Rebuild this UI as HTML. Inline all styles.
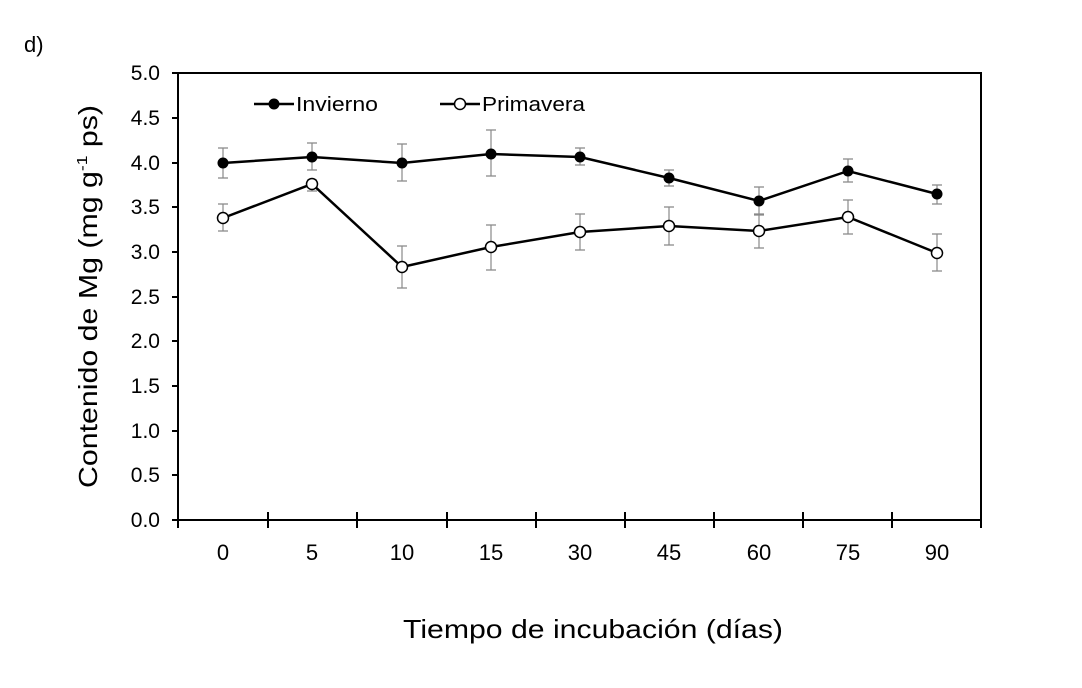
<!DOCTYPE html>
<html><head><meta charset="utf-8"><style>
body{margin:0;background:#fff;}
svg{display:block;font-family:"Liberation Sans",sans-serif;}
</style></head><body>
<svg width="1082" height="688" viewBox="0 0 1082 688" xmlns="http://www.w3.org/2000/svg">
<rect width="1082" height="688" fill="#fff"/>
<text x="24" y="52" font-size="22">d)</text>
<rect x="178" y="73" width="803" height="447" fill="none" stroke="#000" stroke-width="2"/>
<g stroke="#000" stroke-width="2">
<line x1="172" y1="73" x2="178" y2="73"/><line x1="172" y1="118" x2="178" y2="118"/>
<line x1="172" y1="163" x2="178" y2="163"/><line x1="172" y1="207" x2="178" y2="207"/>
<line x1="172" y1="252" x2="178" y2="252"/><line x1="172" y1="297" x2="178" y2="297"/>
<line x1="172" y1="341" x2="178" y2="341"/><line x1="172" y1="386" x2="178" y2="386"/>
<line x1="172" y1="431" x2="178" y2="431"/><line x1="172" y1="475" x2="178" y2="475"/>
<line x1="172" y1="520" x2="178" y2="520"/>
<line x1="268" y1="512" x2="268" y2="528"/><line x1="357" y1="512" x2="357" y2="528"/>
<line x1="447" y1="512" x2="447" y2="528"/><line x1="536" y1="512" x2="536" y2="528"/>
<line x1="625" y1="512" x2="625" y2="528"/><line x1="714" y1="512" x2="714" y2="528"/>
<line x1="803" y1="512" x2="803" y2="528"/><line x1="892" y1="512" x2="892" y2="528"/>
<line x1="178" y1="512" x2="178" y2="528"/><line x1="981" y1="512" x2="981" y2="528"/>
</g>
<g font-size="21" text-anchor="end" fill="#000">
<text x="160" y="80">5.0</text><text x="160" y="125">4.5</text><text x="160" y="170">4.0</text>
<text x="160" y="214">3.5</text><text x="160" y="259">3.0</text><text x="160" y="304">2.5</text>
<text x="160" y="348">2.0</text><text x="160" y="393">1.5</text><text x="160" y="438">1.0</text>
<text x="160" y="482">0.5</text><text x="160" y="527">0.0</text>
</g>
<g font-size="22" text-anchor="middle" fill="#000">
<text x="223" y="560">0</text><text x="312" y="560">5</text><text x="402" y="560">10</text>
<text x="491" y="560">15</text><text x="580" y="560">30</text><text x="669" y="560">45</text>
<text x="759" y="560">60</text><text x="848" y="560">75</text><text x="937" y="560">90</text>
</g>
<text x="403" y="638" font-size="26" textLength="380" lengthAdjust="spacingAndGlyphs">Tiempo de incubación (días)</text>
<text transform="translate(97,488) rotate(-90)" font-size="26" textLength="383" lengthAdjust="spacingAndGlyphs">Contenido de Mg  (mg g<tspan font-size="15" dy="-10">-1</tspan><tspan dy="10"> ps)</tspan></text>
<g stroke="#888" stroke-width="1.2">
<path d="M223 148V178M218 148H228M218 178H228M312 143V170M307 143H317M307 170H317M402 144V181M397 144H407M397 181H407M491 130V176M486 130H496M486 176H496M580 148V165M575 148H585M575 165H585M669 170V186M664 170H674M664 186H674M759 187V215M754 187H764M754 215H764M848 159V182M843 159H853M843 182H853M937 185V204M932 185H942M932 204H942"/>
<path d="M223 204V231M218 204H228M218 231H228M312 180V191M307 180H317M307 191H317M402 246V288M397 246H407M397 288H407M491 225V270M486 225H496M486 270H496M580 214V250M575 214H585M575 250H585M669 207V245M664 207H674M664 245H674M759 214V248M754 214H764M754 248H764M848 200V234M843 200H853M843 234H853M937 234V271M932 234H942M932 271H942"/>
</g>
<polyline fill="none" stroke="#000" stroke-width="2.5" points="223,163 312,157 402,163 491,154 580,157 669,178 759,201 848,171 937,194"/>
<polyline fill="none" stroke="#000" stroke-width="2.5" points="223,218 312,184 402,267 491,247 580,232 669,226 759,231 848,217 937,253"/>
<g fill="#000">
<circle cx="223" cy="163" r="5.5"/><circle cx="312" cy="157" r="5.5"/><circle cx="402" cy="163" r="5.5"/>
<circle cx="491" cy="154" r="5.5"/><circle cx="580" cy="157" r="5.5"/><circle cx="669" cy="178" r="5.5"/>
<circle cx="759" cy="201" r="5.5"/><circle cx="848" cy="171" r="5.5"/><circle cx="937" cy="194" r="5.5"/>
</g>
<g fill="#fff" stroke="#000" stroke-width="1.5">
<circle cx="223" cy="218" r="5.5"/><circle cx="312" cy="184" r="5.5"/><circle cx="402" cy="267" r="5.5"/>
<circle cx="491" cy="247" r="5.5"/><circle cx="580" cy="232" r="5.5"/><circle cx="669" cy="226" r="5.5"/>
<circle cx="759" cy="231" r="5.5"/><circle cx="848" cy="217" r="5.5"/><circle cx="937" cy="253" r="5.5"/>
</g>
<line x1="254" y1="104" x2="294" y2="104" stroke="#000" stroke-width="2.5"/>
<circle cx="274" cy="104" r="5.5" fill="#000"/>
<text x="296" y="111" font-size="20" textLength="82" lengthAdjust="spacingAndGlyphs">Invierno</text>
<line x1="440" y1="104" x2="480" y2="104" stroke="#000" stroke-width="2.5"/>
<circle cx="460" cy="104" r="5.5" fill="#fff" stroke="#000" stroke-width="1.5"/>
<text x="482" y="111" font-size="20" textLength="103" lengthAdjust="spacingAndGlyphs">Primavera</text>
</svg>
</body></html>
